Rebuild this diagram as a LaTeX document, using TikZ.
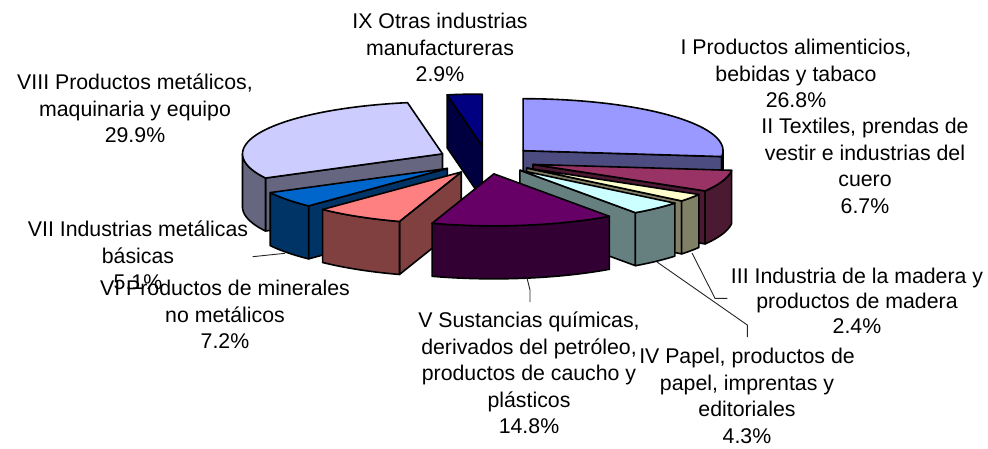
\documentclass[tikz,border=0pt]{standalone}
\usepackage{fontspec}
\setmainfont{Liberation Sans}
\definecolor{cI}{HTML}{9999FF}
\definecolor{cII}{HTML}{993366}
\definecolor{cIII}{HTML}{FFFFCC}
\definecolor{cIV}{HTML}{CCFFFF}
\definecolor{cV}{HTML}{660066}
\definecolor{cVI}{HTML}{FF8080}
\definecolor{cVII}{HTML}{0066CC}
\definecolor{cVIII}{HTML}{CCCCFF}
\definecolor{cIX}{HTML}{000080}
\newcommand{\slTop}[5]{\filldraw[pie,fill=#5] (#1,#2) -- plot[domain=#3:#4,samples=40] ({#1+200*cos(\x)},{#2-52*sin(\x)}) -- cycle;}
\newcommand{\slSide}[5]{\filldraw[pie,fill=#5!50!black] plot[domain=#3:#4,samples=40] ({#1+200*cos(\x)},{#2-52*sin(\x)}) -- plot[domain=#4:#3,samples=40] ({#1+200*cos(\x)},{#2-52*sin(\x)+53}) -- cycle;}
\newcommand{\slFace}[4]{\filldraw[pie,fill=#4!50!black] (#1,#2) -- ({#1+200*cos(#3)},{#2-52*sin(#3)}) -- ({#1+200*cos(#3)},{#2-52*sin(#3)+53}) -- (#1,{#2+53}) -- cycle;}
\begin{document}
\begin{tikzpicture}[x=1pt,y=-1pt,
  pie/.style={draw=black,line width=1.6pt,line join=round},
  lbl/.style={align=center,inner sep=0pt,anchor=north,font=\fontsize{21.3}{26.5}\selectfont},
  lead/.style={draw=black!85,line width=0.9pt}]
\useasboundingbox (0,0) rectangle (988,448);
% IX
\slFace{482.20}{146.05}{100.08}{cIX}
\slTop{482.20}{146.05}{90}{100.08}{cIX}
% I
\slFace{523.05}{150.68}{-6.48}{cI}
\slSide{523.05}{150.68}{-6.48}{0}{cI}
\slTop{523.05}{150.68}{-6.48}{90}{cI}
% VIII
\slFace{442.50}{153.84}{207.72}{cVIII}
\slSide{442.50}{153.84}{180}{207.72}{cVIII}
\slTop{442.50}{153.84}{100.08}{207.72}{cVIII}
% II
\slFace{532.96}{164.45}{-30.6}{cII}
\slSide{532.96}{164.45}{-30.6}{-6.48}{cII}
\slTop{532.96}{164.45}{-30.6}{-6.48}{cII}
% VII
\slFace{447.31}{168.41}{-133.92}{cVII}
\slSide{447.31}{168.41}{-152.28}{-133.92}{cVII}
\slTop{447.31}{168.41}{-152.28}{-133.92}{cVII}
% III
\slFace{526.68}{168.01}{-39.24}{cIII}
\slSide{526.68}{168.01}{-39.24}{-30.6}{cIII}
\slTop{526.68}{168.01}{-39.24}{-30.6}{cIII}
% IV
\slFace{519.93}{170.24}{-54.72}{cIV}
\slSide{519.93}{170.24}{-54.72}{-39.24}{cIV}
\slTop{519.93}{170.24}{-54.72}{-39.24}{cIV}
% VI
\slFace{461.29}{172.01}{-108}{cVI}
\slSide{461.29}{172.01}{-133.92}{-108}{cVI}
\slTop{461.29}{172.01}{-133.92}{-108}{cVI}
% V
\slSide{493.86}{173.84}{-108}{-54.72}{cV}
\slTop{493.86}{173.84}{-108}{-54.72}{cV}
% labels
\node[lbl] (lIX) at (440,13) {IX Otras industrias\\manufactureras\\2.9\%};
\node[lbl] (lI) at (796,39) {I Productos alimenticios,\\bebidas y tabaco\\26.8\%};
\node[lbl] (lII) at (865,118) {II Textiles, prendas de\\vestir e industrias del\\cuero\\6.7\%};
\node[lbl,font=\fontsize{21.3}{25}\selectfont] (lIII) at (857,268) {III Industria de la madera y\\productos de madera\\2.4\%};
\node[lbl] (lIV) at (747,348) {IV Papel, productos de\\papel, imprentas y\\editoriales\\4.3\%};
\node[lbl] (lV) at (529,312) {V Sustancias químicas,\\derivados del petróleo,\\productos de caucho y\\plásticos\\14.8\%};
\node[lbl] (lVI) at (225,280) {VI Productos de minerales\\no metálicos\\7.2\%};
\node[lbl] (lVII) at (138,221) {VII Industrias metálicas\\básicas\\5.1\%};
\node[lbl] (lVIII) at (135,74) {VIII Productos metálicos,\\maquinaria y equipo\\29.9\%};
% leader lines
\coordinate (sVII) at (285,253.3);
\coordinate (eVII) at (252.7,256.7);
\coordinate (sV) at (527,278);
\coordinate (mV) at (530,290);
\coordinate (eV) at (530,302);
\coordinate (sIV) at (657,262);
\coordinate (mIV) at (747.3,325);
\coordinate (eIV) at (747.3,337);
\coordinate (sIII) at (692,253);
\coordinate (mIII) at (715,298.3);
\coordinate (eIII) at (727.3,298.3);
\draw[lead] (sVII) -- (eVII);
\draw[lead] (sV) -- (mV) -- (eV);
\draw[lead] (sIV) -- (mIV) -- (eIV);
\draw[lead] (sIII) -- (mIII) -- (eIII);
\end{tikzpicture}
\end{document}
